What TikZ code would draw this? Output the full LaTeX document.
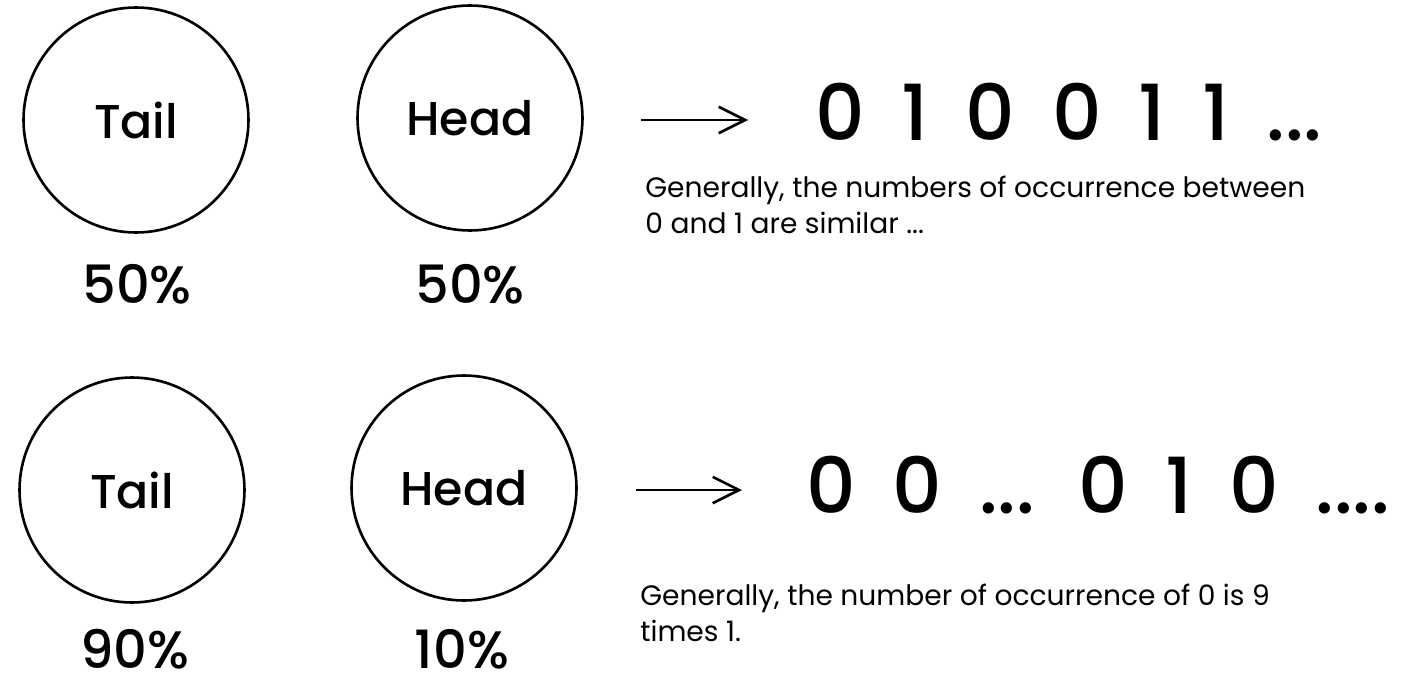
\documentclass[tikz,border=0pt]{standalone}
\usepackage{fontspec}
\setmainfont{Poppins}[BoldFont=* Medium]
\usetikzlibrary{arrows.meta,positioning}
\newcommand\seqspacing{\spaceskip=21pt\relax}

\begin{document}
\begin{tikzpicture}[x=0.02cm, y=-0.02cm,
  coin/.style={draw, circle, line width=1.5pt, minimum size=4.5cm,
               inner sep=0pt, font=\fontsize{27}{30}\bfseries},
  prob/.style={inner sep=0pt, font=\fontsize{30}{34}\bfseries},
  seq/.style={inner sep=0pt, anchor=west, font=\fontsize{44}{50}\bfseries,
              execute at begin node=\seqspacing},
  note/.style={inner sep=0pt, anchor=west, align=left,
               font=\fontsize{16}{20.5}\selectfont},
  arr/.style={-{Straight Barb[length=15pt, width=15pt]}, line width=1.5pt}
]
  \useasboundingbox (0,0) rectangle (1405,686);

  % fair coin
  \node[coin] (tailA) at (136,120) {Tail};
  \node[coin] (headA) at (470,118) {Head};
  \node[prob] (pTailA) at (137,284) {50\%};
  \node[prob] (pHeadA) at (470,284) {50\%};
  \coordinate (fromA) at (641,120);
  \coordinate (toA)   at (748,120);
  \node[seq]  (seqA)  at (815,112) {0 1 0 0 1 1 ...};
  \node[note] (noteA) at (645,205) {Generally, the numbers of occurrence between\\
    0 and 1 are similar ...};
  \draw[arr] (fromA) -- (toA);

  % biased coin
  \node[coin] (tailB) at (132,490) {Tail};
  \node[coin] (headB) at (464,488) {Head};
  \node[prob] (pTailB) at (135,649) {90\%};
  \node[prob] (pHeadB) at (462,649) {10\%};
  \coordinate (fromB) at (636,490);
  \coordinate (toB)   at (742,490);
  \node[seq]  (seqB)  at (806,485) {0 0 ... 0 1 0 ....};
  \node[note] (noteB) at (640,613) {Generally, the number of occurrence of 0 is 9\\
    times 1.};
  \draw[arr] (fromB) -- (toB);
\end{tikzpicture}
\end{document}
